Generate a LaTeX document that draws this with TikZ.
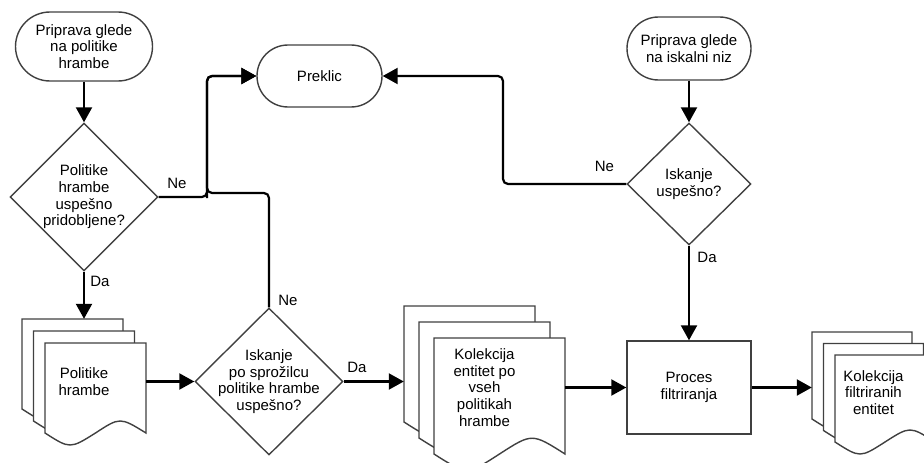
\documentclass[tikz,border=0pt]{standalone}
\usepackage{fontspec}
\setmainfont{Liberation Sans}
\usetikzlibrary{
	arrows.meta,
	shapes.geometric
}

\begin{document}
\begin{tikzpicture}[x=1pt,y=-1pt,
    font=\fontsize{15}{16.7}\selectfont,
    terminal/.style={draw=black!75,line width=1.4pt,rectangle,rounded corners=#1,align=center,inner sep=0pt},
    decision/.style={draw=black!75,line width=1.4pt,diamond,inner sep=0pt},
    process/.style={draw=black!75,line width=1.4pt,rectangle,align=center,inner sep=0pt},
    page/.style={draw=black!75,line width=1.4pt,fill=white},
    stack/.style={rectangle,align=center,inner sep=0pt},
    txt/.style={align=center,inner sep=0pt},
    lbl/.style={inner sep=0pt},
    flow/.style={draw,line width=2.2pt,-{Triangle[length=15pt,width=16pt]},rounded corners=5pt}
]
    \useasboundingbox (0,0) rectangle (924,463);
    % Start and end points
    \node[terminal=34.5pt,minimum width=137pt,minimum height=69pt] (start1) at (84,46.5) {Priprava glede\\na politike\\hrambe};
    \node[terminal=31pt,minimum width=125pt,minimum height=62pt] (preklic) at (319.5,76) {Preklic};
    \node[terminal=31.5pt,minimum width=124pt,minimum height=63pt] (start2) at (689,48.5) {Priprava glede\\na iskalni niz};
    % Decisions
    \node[decision,minimum width=148pt,minimum height=148pt] (pridobljene) at (84,197) {};
    \node[txt] (pridobljeneTxt) at (pridobljene) {Politike\\hrambe\\uspešno\\pridobljene?};
    \node[decision,minimum width=148pt,minimum height=147pt] (sprozilec) at (269,381.5) {};
    \node[txt] (sprozilecTxt) at (sprozilec) {Iskanje\\po sprožilcu\\politike hrambe\\uspešno?};
    \node[decision,minimum width=124pt,minimum height=122pt] (iskanje) at (689,184) {};
    \node[txt] (iskanjeTxt) at (iskanje) {Iskanje\\uspešno?};
    % Process
    \node[process,minimum width=124pt,minimum height=93pt] (proces) at (689,387.5) {Proces\\filtriranja};
    % Document stacks
    \draw[page,shift={(22,319)}] (0,0) -- (101,0) -- (101,90) .. controls (75,74) .. (50.5,90) .. controls (25,106) .. (0,90) -- cycle;
    \draw[page,shift={(33.5,331)}] (0,0) -- (101,0) -- (101,90) .. controls (75,74) .. (50.5,90) .. controls (25,106) .. (0,90) -- cycle;
    \draw[page,shift={(45,343)}] (0,0) -- (101,0) -- (101,90) .. controls (75,74) .. (50.5,90) .. controls (25,106) .. (0,90) -- cycle;
    \node[stack,minimum width=124pt,minimum height=125pt] (politike) at (84,381.5) {Politike\\hrambe};
    \draw[page,shift={(404,306)}] (0,0) -- (131,0) -- (131,116) .. controls (98,95) .. (65.5,116) .. controls (33,137) .. (0,116) -- cycle;
    \draw[page,shift={(419,322)}] (0,0) -- (131,0) -- (131,116) .. controls (98,95) .. (65.5,116) .. controls (33,137) .. (0,116) -- cycle;
    \draw[page,shift={(434,338)}] (0,0) -- (131,0) -- (131,116) .. controls (98,95) .. (65.5,116) .. controls (33,137) .. (0,116) -- cycle;
    \node[stack,minimum width=161pt,minimum height=163pt] (kolekcija) at (484.5,387.5) {Kolekcija\\entitet po\\vseh\\politikah\\hrambe};
    \draw[page,shift={(812,332)}] (0,0) -- (100,0) -- (100,87) .. controls (75,71) .. (50,87) .. controls (25,103) .. (0,87) -- cycle;
    \draw[page,shift={(823.5,343.5)}] (0,0) -- (100,0) -- (100,87) .. controls (75,71) .. (50,87) .. controls (25,103) .. (0,87) -- cycle;
    \draw[page,shift={(835,355)}] (0,0) -- (100,0) -- (100,87) .. controls (75,71) .. (50,87) .. controls (25,103) .. (0,87) -- cycle;
    \node[stack,minimum width=123pt,minimum height=121pt] (filtrirane) at (873.5,392.5) {Kolekcija\\filtriranih\\entitet};
    % Bends
    \coordinate (razcep) at (207,193);
    \coordinate (zavoj) at (503,184);
    % Connectors
    \draw[flow] (start1.south) -- (pridobljene.north);
    \draw[flow] (pridobljene.east) -| (razcep) |- (preklic.west);
    \draw[flow] (sprozilec.north) |- (razcep) |- (preklic.west);
    \draw[flow] (pridobljene.south) -- (politike.north);
    \draw[flow] (politike.east) -- (sprozilec.west);
    \draw[flow] (sprozilec.east) -- (sprozilec.east -| kolekcija.west);
    \draw[flow] (kolekcija.east |- proces.west) -- (proces.west);
    \draw[flow] (proces.east) -- (proces.east -| filtrirane.west);
    \draw[flow] (start2.south) -- (iskanje.north);
    \draw[flow] (iskanje.west) -- (zavoj) |- (preklic.east);
    \draw[flow] (iskanje.south) -- (proces.north);
    % Branch labels
    \node[lbl] (ne1) at (177,183) {Ne};
    \node[lbl] (da1) at (100,281) {Da};
    \node[lbl] (ne2) at (288,300) {Ne};
    \node[lbl] (da2) at (357,367) {Da};
    \node[lbl] (ne3) at (604.5,166) {Ne};
    \node[lbl] (da3) at (707,257) {Da};
\end{tikzpicture}
\end{document}
